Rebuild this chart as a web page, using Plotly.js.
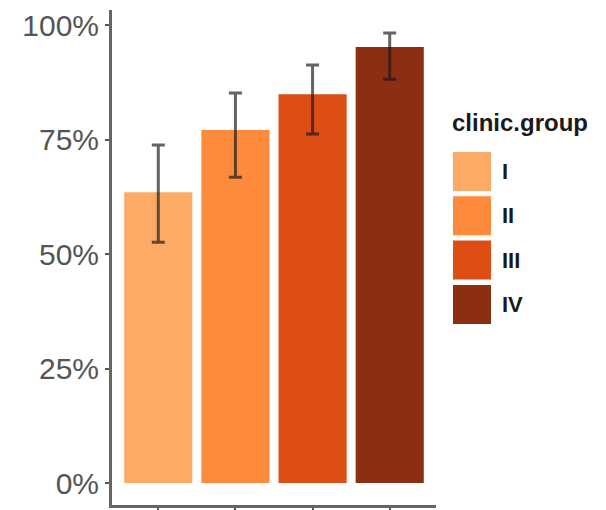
<!DOCTYPE html>
<html>
<head>
<meta charset="utf-8">
<script src="https://cdn.plot.ly/plotly-3.0.1.min.js"></script>
<style>html,body{margin:0;padding:0;background:#fff;}#chart{width:606px;height:510px;}</style>
</head>
<body>
<div id="chart"></div>
<script>
// Data
var categories = ["I", "II", "III", "IV"];
var values = [0.635, 0.771, 0.849, 0.952];
var errUpper = [0.738, 0.852, 0.913, 0.983];
var errLower = [0.526, 0.668, 0.762, 0.882];
var colors = ["#fdaa67", "#fd8b3b", "#dd4d14", "#8b2e11"];
var yTickVals = [0, 0.25, 0.5, 0.75, 1];
var yTickText = ["0%", "25%", "50%", "75%", "100%"];
var legendTitle = "clinic.group";

var W = 606, H = 510;
var M = {l: 112, r: 170, t: 10, b: 5};
var plotW = W - M.l - M.r, plotH = H - M.t - M.b;
function px2paperX(px) { return (px - M.l) / plotW; }
function px2paperY(py) { return (H - M.b - py) / plotH; }

var trace = {
  type: "bar",
  x: categories.map(function (c, i) { return i; }),
  y: values,
  marker: {color: colors, line: {width: 0}},
  error_y: {
    type: "data",
    symmetric: false,
    array: values.map(function (v, i) { return errUpper[i] - v; }),
    arrayminus: values.map(function (v, i) { return v - errLower[i]; }),
    color: "rgba(25,25,25,0.68)",
    thickness: 3,
    width: 6.5
  },
  hoverinfo: "skip",
  showlegend: false
};

// Custom legend (swatches + labels)
var shapes = [];
var annotations = [];
var swX0 = 453, swX1 = 491, swY0 = 152, swH = 39, swStep = 44.3;
categories.forEach(function (c, i) {
  var y0 = swY0 + i * swStep;
  shapes.push({
    type: "rect", xref: "paper", yref: "paper",
    x0: px2paperX(swX0), x1: px2paperX(swX1),
    y0: px2paperY(y0 + swH), y1: px2paperY(y0),
    fillcolor: colors[i], line: {width: 0}
  });
  annotations.push({
    xref: "paper", yref: "paper", x: px2paperX(500), y: px2paperY(y0 + swH / 2),
    xanchor: "left", yanchor: "middle", showarrow: false,
    text: "<b>" + c + "</b>",
    font: {family: "Liberation Sans, Arial, sans-serif", size: 22, color: "#1a1a1a"}
  });
});
annotations.push({
  xref: "paper", yref: "paper", x: px2paperX(450), y: px2paperY(122),
  xanchor: "left", yanchor: "middle", showarrow: false,
  text: "<b>" + legendTitle + "</b>",
  font: {family: "Liberation Sans, Arial, sans-serif", size: 24, color: "#1a1a1a"}
});

var layout = {
  width: W, height: H,
  margin: M,
  paper_bgcolor: "#ffffff",
  plot_bgcolor: "#ffffff",
  bargap: 0.117,
  showlegend: false,
  xaxis: {
    range: [-0.6, 3.6],
    tickvals: [0, 1, 2, 3],
    showticklabels: false,
    ticks: "outside", ticklen: 5, tickwidth: 2, tickcolor: "#555",
    showgrid: false, zeroline: false,
    showline: true, linecolor: "#666", linewidth: 3
  },
  yaxis: {
    range: [-0.048, 1.033],
    tickvals: yTickVals, ticktext: yTickText,
    ticks: "outside", ticklen: 4, tickwidth: 2, tickcolor: "#555",
    tickfont: {family: "Liberation Sans, Arial, sans-serif", size: 30, color: "#555555"},
    showgrid: false, zeroline: false,
    showline: true, linecolor: "#666", linewidth: 3
  },
  shapes: shapes,
  annotations: annotations
};

Plotly.newPlot("chart", [trace], layout, {displayModeBar: false, staticPlot: true});
</script>
</body>
</html>
